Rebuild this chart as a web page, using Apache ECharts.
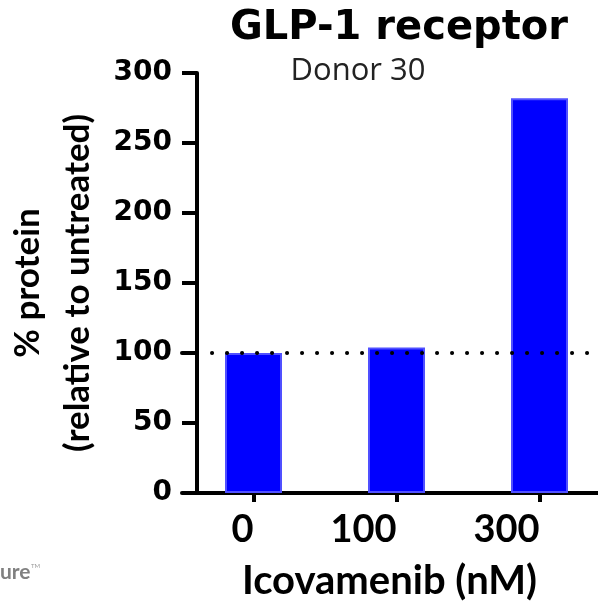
<!DOCTYPE html>
<html>
<head>
<meta charset="utf-8">
<script src="https://cdn.jsdelivr.net/npm/echarts@6/dist/echarts.min.js"></script>
<style>
  html, body { margin: 0; padding: 0; background: #fff; }
  #chart { width: 598px; height: 603px; }
</style>
</head>
<body>
<div id="chart"></div>
<script>
// data
const categories = ['0', '100', '300']
const proteinValues = [100, 104, 282]
const yTicks = [0, 50, 100, 150, 200, 250, 300]
const referenceLevel = 100

const chart = echarts.init(document.getElementById('chart'))

const option = {
    animation: false,
    backgroundColor: '#fff',
    title: [
        {
            text: 'GLP-1 receptor',
            left: 394,
            top: 4,
            textAlign: 'center',
            textStyle: { fontFamily: 'DejaVu Sans', fontWeight: 'bold', fontSize: 40, color: '#000' }
        },
        {
            text: 'Donor 30',
            left: 353,
            top: 51,
            textAlign: 'center',
            textStyle: { fontFamily: 'Open Sans', fontWeight: 'normal', fontSize: 31, color: '#222' }
        }
    ],
    grid: {
        left: 182,
        right: -13,
        top: 73,
        bottom: 110,
        containLabel: false,
        outerBoundsMode: 'none'
    },
    xAxis: {
        type: 'category',
        data: categories,
        name: 'Icovamenib (nM)',
        nameLocation: 'middle',
        nameGap: 68,
        nameTextStyle: { fontFamily: 'Lato', fontWeight: 'bold', fontSize: 40, color: '#000', padding: [0, 14, 0, 0] },
        axisLine: { lineStyle: { color: '#000', width: 4 } },
        axisTick: { show: true, alignWithLabel: true, length: 9, lineStyle: { color: '#000', width: 4 } },
        axisLabel: {
            margin: 18,
            fontFamily: 'Lato',
            fontWeight: 'bold',
            fontSize: 38,
            color: '#000',
            align: 'right'
        }
    },
    yAxis: {
        type: 'value',
        min: yTicks[0],
        max: yTicks[yTicks.length - 1],
        interval: 50,
        offset: -15,
        name: '% protein\n(relative to untreated)',
        nameLocation: 'middle',
        nameRotate: 90,
        nameGap: 92,
        nameTextStyle: { fontFamily: 'Lato', fontWeight: 'bold', fontSize: 35, lineHeight: 50, color: '#000' },
        axisLine: { show: true, lineStyle: { color: '#000', width: 4 } },
        axisTick: { show: true, length: 15, lineStyle: { color: '#000', width: 4 } },
        splitLine: { show: false },
        axisLabel: {
            margin: 25,
            fontFamily: 'DejaVu Sans',
            fontWeight: 'bold',
            fontSize: 28,
            color: '#000'
        }
    },
    series: [
        {
            type: 'bar',
            data: proteinValues,
            barWidth: 57,
            itemStyle: { color: '#0000ff', borderColor: '#5050ff', borderWidth: 2 },
            markLine: {
                silent: true,
                symbol: 'none',
                label: { show: false },
                lineStyle: { color: '#000', width: 4, type: [0.1, 14.9], cap: 'round' },
                data: [{ yAxis: referenceLevel }]
            }
        }
    ],
    graphic: [
        {
            type: 'text',
            left: 0,
            top: 562,
            style: {
                text: 'ure',
                fontFamily: 'Lato',
                fontWeight: 'bold',
                fontSize: 21,
                fill: '#808080'
            }
        },
        {
            type: 'text',
            left: 31,
            top: 563,
            style: { text: 'TM', fontFamily: 'Lato', fontSize: 6, fill: '#9a9a9a' }
        }
    ]
}

chart.setOption(option)
</script>
</body>
</html>
